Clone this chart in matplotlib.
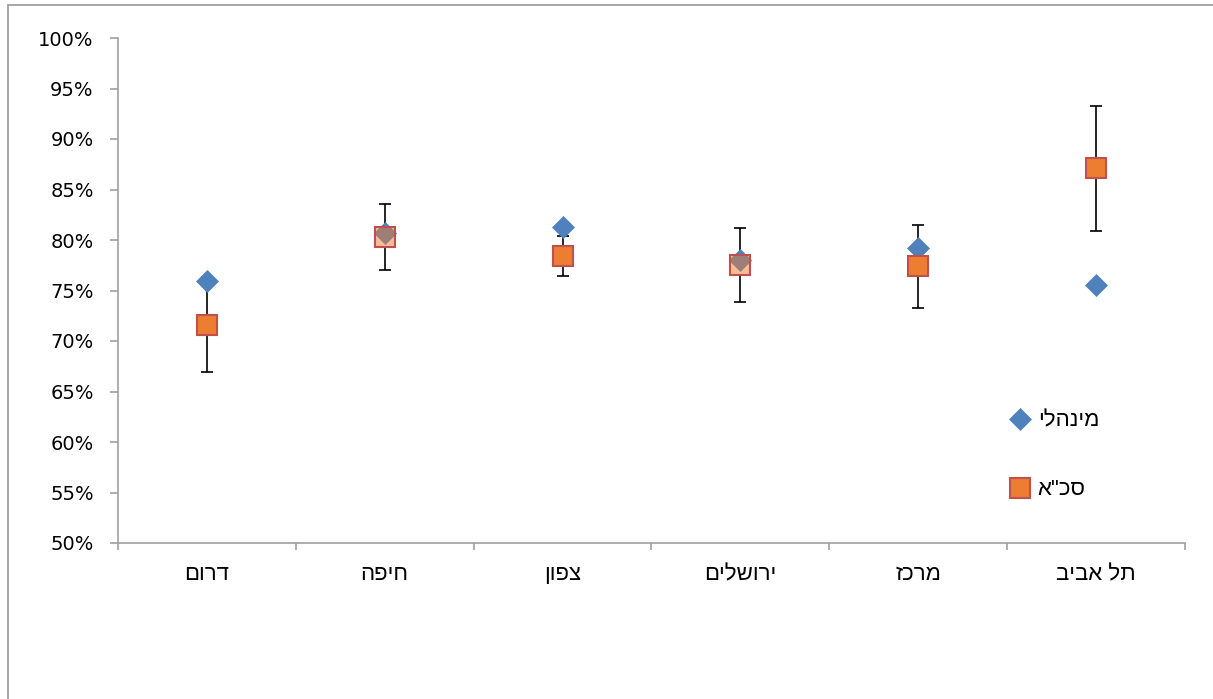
import matplotlib
matplotlib.use("Agg")
import matplotlib.pyplot as plt
from matplotlib.patches import Rectangle
import numpy as np

plt.rcParams['font.family'] = ['DejaVu Sans']
HEB = ['Liberation Sans', 'DejaVu Sans']

# ---- data ----
categories = ["דרום", "חיפה", "צפון", "ירושלים", "מרכז", "תל אביב"]
series_names = ["מינהלי", 'סכ"א']
minhali = [75.9, 80.7, 81.3, 78.0, 79.2, 75.5]
sacha = [71.6, 80.3, 78.4, 77.5, 77.4, 87.1]
sacha_err = [4.7, 3.25, 1.95, 3.65, 4.1, 6.2]
sacha_alpha = [1.0, 0.5, 1.0, 0.5, 1.0, 1.0]
yticks = [50, 55, 60, 65, 70, 75, 80, 85, 90, 95, 100]


def rtl(s):
    # matplotlib lays glyphs out left-to-right; reverse for visual RTL order
    return s[::-1]


W, H = 1213, 699
fig = plt.figure(figsize=(W / 100, H / 100), dpi=100)
fig.patch.set_facecolor('white')

# outer chart-area border (extends beyond right/bottom edges like the reference)
fig.patches.append(Rectangle((8 / W, -0.2), 1.2, 1 - 5 / H + 0.2,
                             transform=fig.transFigure, fill=False,
                             edgecolor='#a0a0a0', linewidth=1.3))

ax = fig.add_axes([118 / W, (H - 543) / H, (1185 - 118) / W, (543 - 38) / H])
x = np.arange(len(categories))

blue = '#4f81bd'
orange = np.array([0xED, 0x7D, 0x31]) / 255
red_edge = '#c0504d'
MS_SQ = 14
MS_D = 11.5

# error bars (bottom)
ax.errorbar(x, sacha, yerr=sacha_err, fmt='none', ecolor='black',
            elinewidth=1.2, capsize=4.5, capthick=1.2, zorder=2)
# white backing so error bars don't show through translucent squares
ax.plot(x, sacha, linestyle='none', marker='s', markersize=MS_SQ,
        markerfacecolor='white', markeredgecolor='white', markeredgewidth=1.5,
        zorder=2.5)
# diamonds
diam, = ax.plot(x, minhali, linestyle='none', marker='D', markersize=MS_D,
                markerfacecolor=blue, markeredgecolor=blue, markeredgewidth=0.5,
                zorder=3, label=rtl(series_names[0]))
# squares (per-point alpha fill)
for xi, yi, a in zip(x, sacha, sacha_alpha):
    ax.plot([xi], [yi], linestyle='none', marker='s', markersize=MS_SQ,
            markerfacecolor=(*orange, a), markeredgecolor=red_edge,
            markeredgewidth=1.5, zorder=4)
sq, = ax.plot([], [], linestyle='none', marker='s', markersize=MS_SQ,
              markerfacecolor=orange, markeredgecolor=red_edge,
              markeredgewidth=1.5, label=rtl(series_names[1]))

ax.set_xlim(-0.5, len(categories) - 0.5)
ax.set_ylim(50, 100)
ax.set_yticks(yticks)
ax.set_yticklabels([f"{v}%" for v in yticks])
ax.set_xticks(x)
ax.set_xticklabels([rtl(c) for c in categories], family=HEB, fontsize=16)
ax.set_xticks(np.arange(-0.5, len(categories)), minor=True)

for s in ['top', 'right']:
    ax.spines[s].set_visible(False)
for s in ['left', 'bottom']:
    ax.spines[s].set_color('#a0a0a0')
    ax.spines[s].set_linewidth(1.2)

ax.tick_params(axis='y', direction='out', length=5.5, width=1.2, color='#a0a0a0',
               labelsize=14, pad=12, labelcolor='black')
ax.tick_params(axis='x', which='major', length=0, pad=15, labelcolor='black')
ax.tick_params(axis='x', which='minor', direction='out', length=5, width=1.2,
               color='#a0a0a0')

leg = fig.legend(handles=[diam, sq], loc='center left',
                 bbox_to_anchor=(1010 / W, 1 - 455.5 / H),
                 bbox_transform=fig.transFigure, frameon=False,
                 prop={'family': HEB, 'size': 16}, handlelength=0.9,
                 handletextpad=0.35, labelspacing=2.15, borderpad=0,
                 borderaxespad=0)

fig.savefig('out.png', dpi=100, facecolor='white')
